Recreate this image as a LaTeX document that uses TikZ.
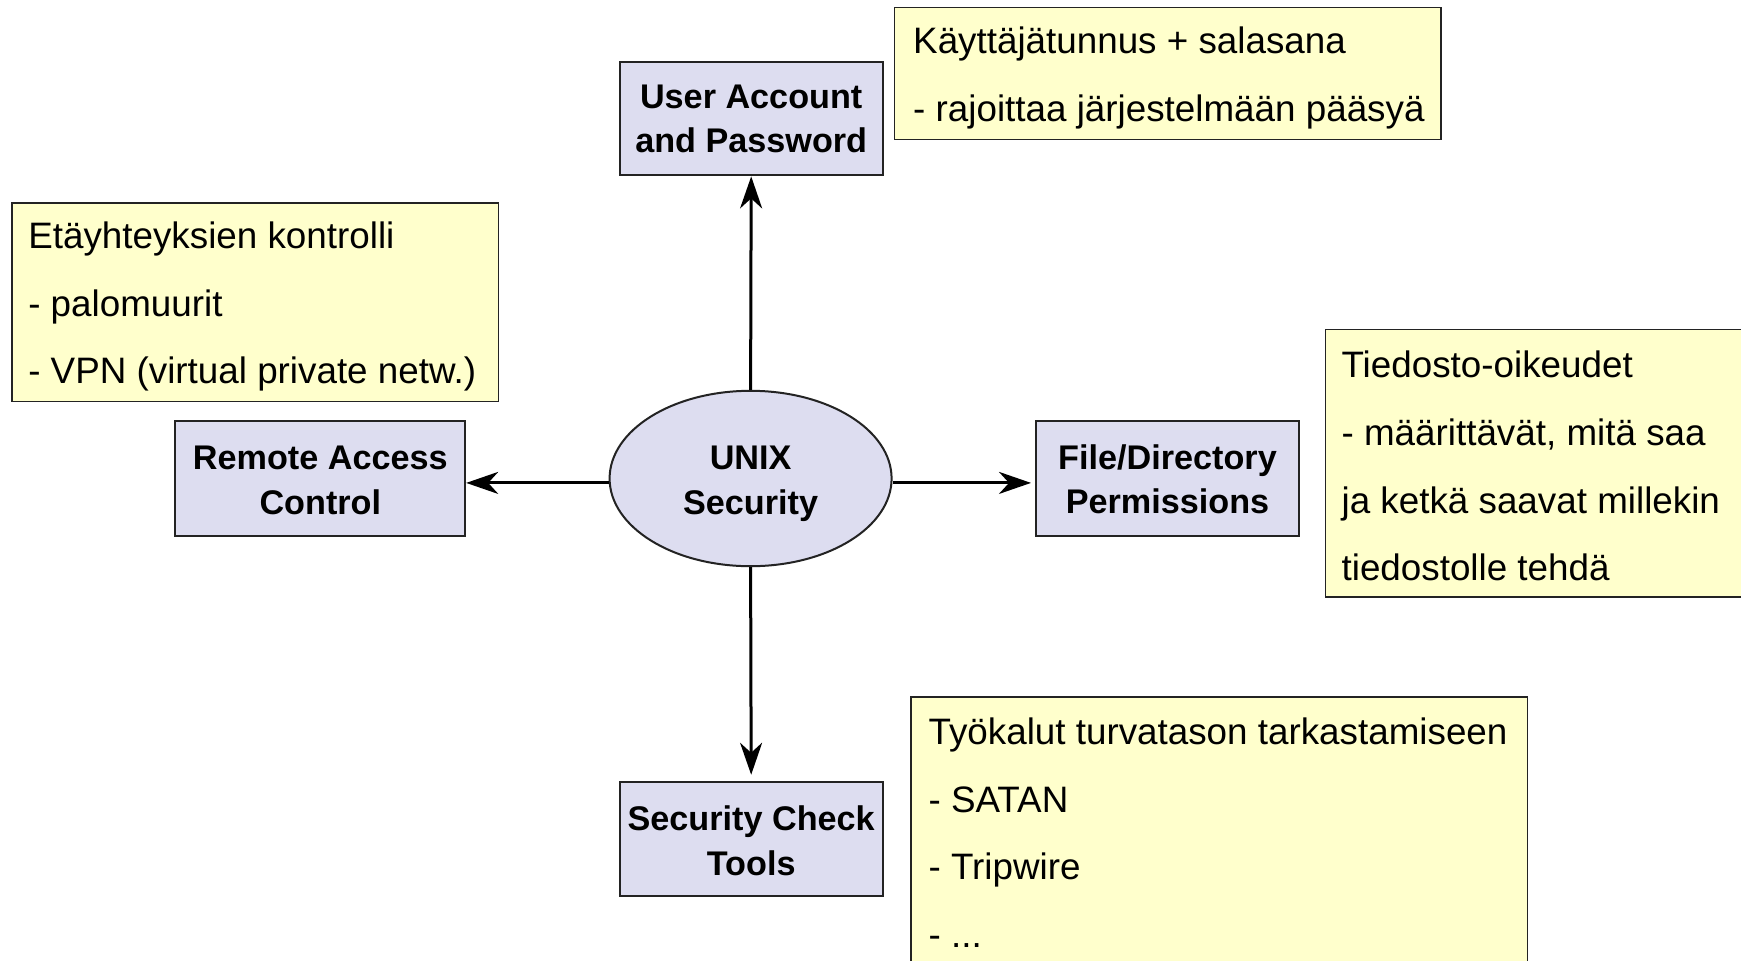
\documentclass[tikz,border=0pt]{standalone}
\usepackage{fontspec}
\setmainfont{Liberation Sans}
\usetikzlibrary{shapes.geometric,arrows.meta}
\definecolor{boxfill}{RGB}{221,221,240}
\definecolor{notefill}{RGB}{255,255,204}
\definecolor{edgecol}{RGB}{35,35,35}
\begin{document}
\begin{tikzpicture}[x=0.5pt,y=-0.5pt,
  topic/.style={draw=edgecol, line width=1pt, fill=boxfill, font=\bfseries\fontsize{17.1}{22.2}\selectfont, align=center, inner sep=0pt},
  topictext/.style={font=\bfseries\fontsize{17.1}{22.2}\selectfont, align=center, inner sep=0pt},
  notebox/.style={draw=edgecol, line width=0.8pt, fill=notefill, anchor=north west, inner sep=0pt},
  notetext/.style={font=\fontsize{18.4}{33.85}\selectfont, align=left, anchor=west, inner sep=0pt},
  link/.style={line width=1.5pt, -{Stealth[length=16pt,width=11pt,inset=5pt]}}]
\useasboundingbox (0,0) rectangle (1741,960);
\clip (0,0) rectangle (1741,960);
\fill[white] (0,0) rectangle (1741,960);

% central ellipse
\node[topic, ellipse, minimum width=141pt, minimum height=87.7pt] (sec) at (750.6,478.5) {};
\node[topictext] (sectext) at ([yshift=-2.6pt]sec.center) {UNIX\\Security};

% topic boxes
\node[topic, minimum width=131.5pt, minimum height=56.6pt] (ua) at (751.2,118.8) {User Account\\and Password};
\node[topic, minimum width=144.9pt, minimum height=57.75pt] (ra) at (320.3,478.5) {};
\node[topictext] (ratext) at ([yshift=-1pt]ra.center) {Remote Access\\Control};
\node[topic, minimum width=131.5pt, minimum height=57.75pt] (fd) at (1167.5,478.5) {};
\node[topictext] (fdtext) at ([yshift=-0.5pt]fd.center) {File/Directory\\Permissions};
\node[topic, minimum width=131.5pt, minimum height=57.15pt] (sc) at (751.2,838.9) {};
\node[topictext] (sctext) at ([yshift=-1pt]sc.center) {Security Check\\Tools};

% notes
\node[notebox, minimum width=273.1pt, minimum height=66pt] (n1) at (893.8,6.7) {};
\node[notetext] (n1t) at ([xshift=9.5pt,yshift=-2.2pt]n1.west) {Käyttäjätunnus + salasana\\- rajoittaa järjestelmään pääsyä};

\node[notebox, minimum width=243.2pt, minimum height=99.4pt] (n2) at (11.1,202) {};
\node[notetext] (n2t) at ([xshift=8.4pt,yshift=-2.2pt]n2.west) {Etäyhteyksien kontrolli\\- palomuurit\\- VPN (virtual private netw.)};

\node[notebox, minimum width=209pt, minimum height=133.8pt] (n3) at (1324.6,328.6) {};
\node[notetext] (n3t) at ([xshift=8.3pt,yshift=-1.5pt]n3.west) {Tiedosto-oikeudet\\- määrittävät, mitä saa\\ja ketkä saavat millekin\\tiedostolle tehdä};

\node[notebox, minimum width=308.2pt, minimum height=136pt] (n4) at (910.4,696) {};
\node[notetext] (n4t) at ([xshift=8.9pt]n4.west) {Työkalut turvatason tarkastamiseen\\- SATAN\\- Tripwire\\- ...};

% connectors
\draw[link] (sec.north) -- (ua.south);
\draw[link] ([yshift=-2.2pt]sec.west) -- ([yshift=-2.2pt]ra.east);
\draw[link, shorten >=2pt] ([yshift=-2.2pt]sec.east) -- ([yshift=-2.2pt]fd.west);
\draw[link, shorten >=3pt] (sec.south) -- (sc.north);
\end{tikzpicture}
\end{document}
